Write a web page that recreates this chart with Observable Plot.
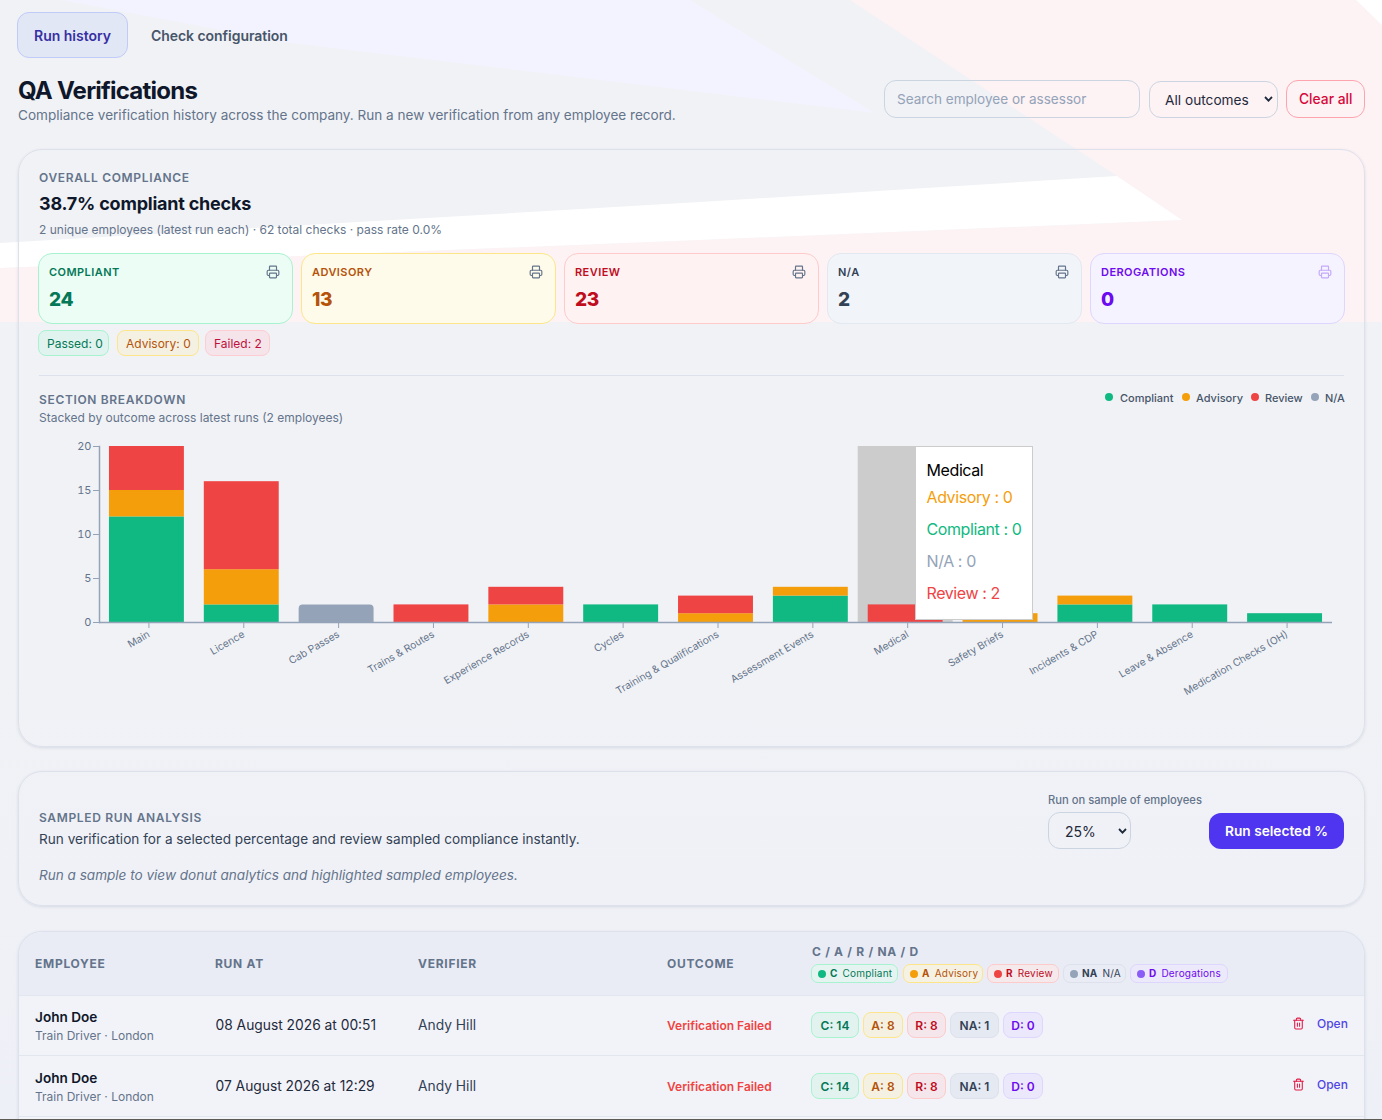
<!DOCTYPE html>
<html><head><meta charset="utf-8">
<script src="https://cdn.jsdelivr.net/npm/d3@7"></script>
<script src="https://cdn.jsdelivr.net/npm/@observablehq/plot@0.6"></script>
<style>
html,body{margin:0;padding:0;height:1120px;overflow:hidden;background:#f1f2f6;font-family:Inter,"Noto Sans",sans-serif;color:#0f172a}
#page{position:relative;width:1382px;height:1120px;overflow:hidden}
#page div.a,#page span.a{position:absolute;white-space:nowrap;box-sizing:border-box}
svg.bg{position:absolute;left:0;top:0}
</style></head><body><div id="page">
<svg class="bg" width="1382" height="1120">
<defs><linearGradient id="fade" x1="0" x2="0" y1="0" y2="1"><stop offset="0" stop-color="#f1f2f6"/><stop offset=".6" stop-color="#f1f2f6"/><stop offset="1" stop-color="#eef0f7"/></linearGradient></defs>
<rect width="1382" height="1120" fill="url(#fade)"/>
<polygon points="60,0 690,0 875,113 290,43" fill="#f2f3fe"/>
<polygon points="0,268 700,240 1182,220 1117,176 850,0 1356,0 1382,25 1382,322 0,322" fill="#fdf2f4"/>
<polygon points="1356,0 1382,0 1382,25" fill="#ffffff"/>
<polygon points="0,243 700,202 1117,176 1182,220 700,240 0,268" fill="#ffffff"/>
</svg>
</div>
<script>
const sections = ["Main","Licence","Cab Passes","Trains & Routes","Experience Records","Cycles","Training & Qualifications","Assessment Events","Medical","Safety Briefs","Incidents & CDP","Leave & Absence","Medication Checks (OH)"];
const compliant = [12,2,0,0,0,2,0,3,0,0,2,2,1];
const advisory  = [3,4,0,0,2,0,1,1,0,1,1,0,0];
const review    = [5,10,0,2,2,0,2,0,2,0,0,0,0];
const na        = [0,0,2,0,0,0,0,0,0,0,0,0,0];
const outcomes = ["Compliant","Advisory","Review","N/A"];
const outcomeColors = ["#10b981","#f59e0b","#ef4444","#94a3b8"];
const hoverSection = "Medical";
const yTicks = [0,5,10,15,20];

const tileLabels = ["COMPLIANT","ADVISORY","REVIEW","N/A","DEROGATIONS"];
const tileValues = [24,13,23,2,0];
const tileX = [38,301,564,827,1090];
const tileInk = ["#047857","#b45309","#c00d1e","#334155","#6d0af0"];
const tileBg = ["#ecfdf5","#fffbeb","#fef2f2","#f1f5f9","#f5f3ff"];
const tileLine = ["#a7f3d0","#fde68a","#fecaca","#e2e8f0","#ddd6fe"];

const P = document.getElementById("page");
function t(x,cy,text,css=""){const d=document.createElement("div");d.className="a";d.textContent=text;d.style.cssText=`left:${x}px;top:${cy-.5}px;transform:translateY(-50%);${css}`;P.appendChild(d);return d;}
function b(x,y,w,h,css=""){const d=document.createElement("div");d.className="a";d.style.cssText=`left:${x}px;top:${y}px;width:${w}px;height:${h}px;${css}`;P.appendChild(d);return d;}
function ic(x,cy,kind,color,size=14){const paths={print:'<path d="M6 9V3a1 1 0 0 1 1-1h10a1 1 0 0 1 1 1v6"/><path d="M6 18H4a2 2 0 0 1-2-2v-5a2 2 0 0 1 2-2h16a2 2 0 0 1 2 2v5a2 2 0 0 1-2 2h-2"/><rect x="6" y="14" width="12" height="8" rx="1"/>',trash:'<path d="M3 6h18"/><path d="M19 6v14a2 2 0 0 1-2 2H7a2 2 0 0 1-2-2V6"/><path d="M8 6V4a2 2 0 0 1 2-2h4a2 2 0 0 1 2 2v2"/><path d="M10 11v6"/><path d="M14 11v6"/>'};
 const d=b(x,cy-size/2,size,size,"");d.innerHTML=`<svg width="${size}" height="${size}" viewBox="0 0 24 24" fill="none" stroke="${color}" stroke-width="2" stroke-linecap="round" stroke-linejoin="round" style="display:block">${paths[kind]}</svg>`;}
const cardCss="border:1px solid #dde1ec;border-radius:24px;box-shadow:0 1px 3px rgba(100,116,139,.18);";
const capsCss="font-size:12px;font-weight:600;letter-spacing:.055em;color:#64748b;";
const chev='<svg width="9" height="6" viewBox="0 0 9 6" style="display:block"><path d="M1 1 4.5 4.6 8 1" fill="none" stroke="#1e293b" stroke-width="1.8"/></svg>';

// tabs & header
b(17,12,111,46,"background:#e2e7f6;border:1px solid #c0cbf7;border-radius:12px;");
t(34,35,"Run history","font-size:14px;font-weight:600;color:#3730a3;");
t(151,35,"Check configuration","font-size:14px;font-weight:600;letter-spacing:-.05px;color:#475569;");
t(18,90,"QA Verifications","font-size:24px;font-weight:700;letter-spacing:-.032em;color:#0f172a;");
t(18,115,"Compliance verification history across the company. Run a new verification from any employee record.","font-size:13.55px;color:#64748b;");
b(884,80,256,38,"border:1px solid #cbd5e1;border-radius:12px;");
t(897,99,"Search employee or assessor","font-size:13.55px;color:#94a3b8;");
b(1149,81,129,37,"border:1px solid #cbd5e1;border-radius:12px;");
t(1165,100,"All outcomes","font-size:13.7px;color:#1e293b;");
b(1264,96,9,6,"").innerHTML=chev;
b(1286,80,79,38,"border:1px solid #fda4af;border-radius:12px;");
t(1299,99,"Clear all","font-size:13.8px;font-weight:500;color:#d6083a;");

// overall card
b(18,149,1347,598,cardCss);
t(39,177,"OVERALL COMPLIANCE",capsCss);
t(39,203,"38.7% compliant checks","font-size:18px;font-weight:700;letter-spacing:-.012em;color:#0f172a;");
t(39,229,"2 unique employees (latest run each) · 62 total checks · pass rate 0.0%","font-size:12px;color:#64748b;");
tileLabels.forEach((l,i)=>{
  b(tileX[i],253,255,71,`background:${tileBg[i]};border:1px solid ${tileLine[i]};border-radius:14px;`);
  t(tileX[i]+11,272,l,`font-size:11px;font-weight:600;letter-spacing:.04em;color:${tileInk[i]};`);
  t(tileX[i]+11,299,String(tileValues[i]),`font-size:19px;font-weight:800;letter-spacing:-.3px;color:${tileInk[i]};`);
  ic(tileX[i]+228,272,"print",i===4?"#c4a8fb":"#64748b");
});
[["Passed: 0",38,71,"#e0f3ee","#a7f3d0","#047857"],["Advisory: 0",117,82,"#f5f1e2","#fde68a","#b45309"],["Failed: 2",205,65,"#f5e4e9","#fecdd3","#be123c"]].forEach(([s,x,w,bg,bd,c])=>{
  b(x,330,w,26,`background:${bg};border:1px solid ${bd};border-radius:8px;`);
  t(x+9,343,s,`font-size:12px;color:${c};`);
});
b(39,375,1305,1,"background:#dde1ec;");
t(39,399,"SECTION BREAKDOWN",capsCss);
t(39,417,"Stacked by outcome across latest runs (2 employees)","font-size:12px;color:#64748b;");
[[1109,1120],[1186,1196],[1255,1265],[1315,1325]].forEach(([dx,tx],i)=>{
  b(dx-4,393,8,8,`border-radius:50%;background:${outcomeColors[i]};`);
  t(tx,398.5,outcomes[i],"font-size:11px;font-weight:500;color:#475569;");
});

// chart
const series = [compliant,advisory,review,na];
const rows = sections.flatMap((s,i)=>outcomes.map((o,k)=>({section:s,outcome:o,value:series[k][i]}))).filter(d=>d.value>0);
const chart = Plot.plot({
  width:1305,height:290,marginTop:16,marginBottom:98,marginLeft:60,marginRight:12,
  style:{background:"transparent",fontFamily:"Inter, sans-serif",fontSize:"11px",overflow:"visible"},
  x:{domain:sections,paddingInner:.21,paddingOuter:.105,round:false,label:null},
  y:{domain:[0,20],label:null},
  color:{domain:outcomes,range:outcomeColors},
  marks:[
    Plot.barY([{section:hoverSection,top:20}],{x:"section",y:"top",fill:"#cccccc",insetLeft:-10,insetRight:-10}),
    Plot.barY(rows.filter(d=>d.outcome!=="N/A"),{x:"section",y:"value",fill:"outcome",order:outcomes}),
    Plot.barY(rows.filter(d=>d.outcome==="N/A"),{x:"section",y:"value",fill:"outcome",rx1y1:4,rx2y1:4}),
    Plot.ruleY([0],{stroke:"#94a3b8",strokeWidth:1.6}),
    Plot.frame({anchor:"left",stroke:"#94a3b8",strokeWidth:1.5}),
    Plot.axisY({ticks:yTicks,tickSize:6,tickPadding:2,stroke:"#94a3b8",fill:"#64748b",label:null,fontSize:11}),
    Plot.axisX({tickSize:6,tickRotate:-30,tickPadding:5,dx:2,stroke:"#94a3b8",fill:"#64748b",label:null,fontSize:10.2})
  ]
});
chart.style.position="absolute";chart.style.left="39px";chart.style.top="430px";
P.appendChild(chart);

// tooltip
b(915,446,118,174,"background:#fff;border:1px solid #ccc;");
t(926.5,470.5,hoverSection,"font-size:16px;letter-spacing:-.4px;color:#000;");
[["Advisory",497.5,advisory,1],["Compliant",529.5,compliant,0],["N/A",561.5,na,3],["Review",593.5,review,2]].forEach(([n,cy,arr,k])=>{
  t(926.5,cy,`${n} : ${arr[sections.indexOf(hoverSection)]}`,`font-size:16px;letter-spacing:-.4px;color:${outcomeColors[k]};`);
});

// sample card
b(18,771,1347,135,cardCss);
t(39,817,"SAMPLED RUN ANALYSIS",capsCss);
t(39,839,"Run verification for a selected percentage and review sampled compliance instantly.","font-size:13.6px;color:#334155;");
t(39,875,"Run a sample to view donut analytics and highlighted sampled employees.","font-size:13.55px;font-style:italic;color:#64748b;");
t(1048,800,"Run on sample of employees","font-size:11.2px;font-weight:500;color:#64748b;");
b(1048,812,83,37,"border:1px solid #cbd5e1;border-radius:12px;");
t(1065,831,"25%","font-size:14px;color:#1e293b;");
b(1118,828,9,6,"").innerHTML=chev;
b(1209,813,135,36,"background:#4f35f0;border-radius:12px;");
t(1225,831,"Run selected %","font-size:13.7px;font-weight:600;color:#fff;");

// table
b(18,931,1347,260,cardCss+"overflow:hidden;background:#f2f3f8;").innerHTML='<div style="height:63px;background:#e9ecf5;border-bottom:1px solid #e2e6ef"></div>';
const thCss="font-size:12px;font-weight:700;letter-spacing:.06em;color:#64748b;";
[["EMPLOYEE",35],["RUN AT",215],["VERIFIER",418],["OUTCOME",667]].forEach(([s,x])=>t(x,963,s,thCss));
t(812,951,"C / A / R / NA / D",thCss);
[[811,87,"#10b981","C","Compliant","#047857","#a7f3d0","#e6f4f1"],[903,80,"#f59e0b","A","Advisory","#b45309","#fde68a","#f6f2e3"],[987,72,"#ef4444","R","Review","#c00d1e","#fecaca","#f5e9ec"],[1063,63,"#94a3b8","NA","N/A","#334155","#dde1ec","#e9ecf4"],[1130,98,"#8b5cf6","D","Derogations","#6d0af0","#ddd6fe","#ece9fa"]].forEach(([x,w,dot,k,n,c,bd,bg])=>{
  b(x,964,w,19,`background:${bg};border:1px solid ${bd};border-radius:7px;`);
  b(x+7,970,8,8,`border-radius:50%;background:${dot};`);
  const s=t(x+19,973.5,"",`font-size:10px;letter-spacing:.02em;color:${c};`);
  s.innerHTML=`<b style="font-weight:700">${k}</b><span style="margin-left:5px">${n}</span>`;
});
const runDates=["08 August 2026 at 00:51","07 August 2026 at 12:29"];
const rowY=[995,1056];
const chipX=[[811,48],[863,40],[907,39],[950,49],[1003,40]];
const chipText=["C: 14","A: 8","R: 8","NA: 1","D: 0"];
const chipInk=["#047857","#b45309","#c00d1e","#334155","#6d0af0"];
const chipBg=["#e2f2ee","#f5f1e2","#f4e6ea","#e5e9f2","#ebe8fb"];
const chipLine=["#a7f3d0","#fde68a","#fecaca","#dde1ec","#ddd6fe"];
rowY.forEach((y,r)=>{
  t(35,y+22,"John Doe","font-size:13.6px;font-weight:600;color:#0f172a;");
  t(35,y+40,"Train Driver · London","font-size:12px;color:#64748b;");
  t(215.5,y+30,runDates[r],"font-size:13.8px;color:#1e293b;");
  t(418,y+30,"Andy Hill","font-size:13.8px;color:#334155;");
  t(667,y+30.5,"Verification Failed","font-size:12px;font-weight:600;color:#ef4444;");
  chipX.forEach(([x,w],i)=>{
    b(x,y+17,w,26,`background:${chipBg[i]};border:1px solid ${chipLine[i]};border-radius:8px;`);
    const s=t(x+w/2,y+30.5,chipText[i],`font-size:12px;font-weight:600;color:${chipInk[i]};`);
    s.style.transform="translate(-50%,-50%)";
  });
  ic(1291.5,y+28.5,"trash","#e11d48",13);
  t(1317,y+28,"Open","font-size:12px;font-weight:500;color:#4f46e5;");
  b(19,y+60,1345,1,"background:#e2e6ef;");
});
b(0,1119,1382,1,"background:#5c5a55;");
</script>
</body></html>
